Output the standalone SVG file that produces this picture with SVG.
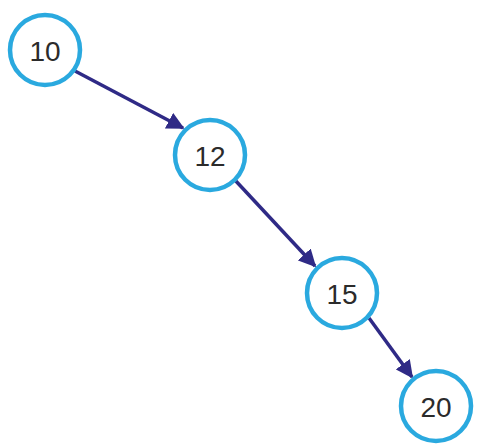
<svg xmlns="http://www.w3.org/2000/svg" width="482" height="448" viewBox="0 0 482 448">
<style>
.n circle{fill:#fff;stroke:#2aa9df;stroke-width:4.5}
.n text{font-family:"Liberation Sans",Arial,sans-serif;font-size:28px;fill:#2b2b2b;text-anchor:middle;dominant-baseline:central}
.e line{stroke:#2f2a86;stroke-width:3.5;marker-end:url(#ah)}
</style>
<defs>
<marker id="ah" viewBox="0 0 10 10" refX="9" refY="5" markerWidth="5" markerHeight="5" orient="auto" markerUnits="strokeWidth">
<path d="M0,0 L10,5 L0,10 z" fill="#2f2a86"/>
</marker>
</defs>
<rect width="482" height="448" fill="#fff"/>
<g id="connectors" class="e">
<line x1="75" y1="71" x2="183" y2="128"/>
<line x1="234" y1="179" x2="315" y2="266"/>
<line x1="369" y1="318" x2="412" y2="377"/>
</g>
<g id="node-10" class="n"><circle cx="45" cy="50" r="35"/><text x="45" y="51">10</text></g>
<g id="node-12" class="n"><circle cx="210" cy="155" r="35"/><text x="210" y="156">12</text></g>
<g id="node-15" class="n"><circle cx="342" cy="293" r="35"/><text x="342" y="294">15</text></g>
<g id="node-20" class="n"><circle cx="436" cy="406" r="35"/><text x="436" y="407">20</text></g>
</svg>
